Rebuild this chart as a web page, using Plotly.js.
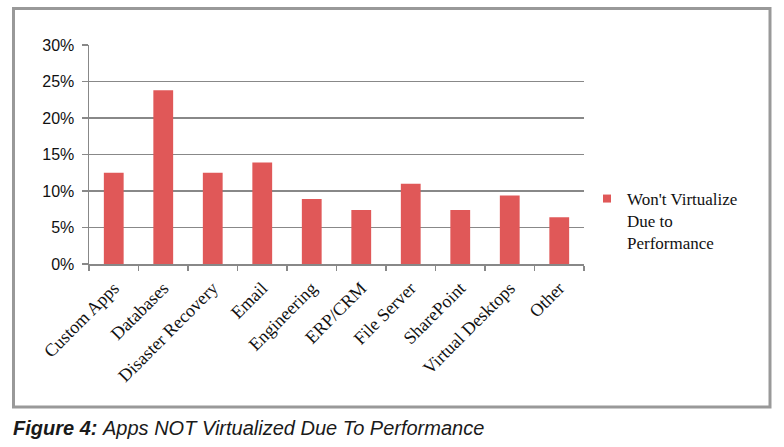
<!DOCTYPE html>
<html>
<head>
<meta charset="utf-8">
<script src="https://cdn.plot.ly/plotly-3.0.1.min.js"></script>
<style>
html,body{margin:0;padding:0;background:#fff;}
#chart{width:784px;height:447px;}
</style>
</head>
<body>
<div id="chart"></div>
<script>
const categories = ["Custom Apps","Databases","Disaster Recovery","Email","Engineering","ERP/CRM","File Server","SharePoint","Virtual Desktops","Other"];
const wontVirtualize = [0.125, 0.238, 0.125, 0.139, 0.089, 0.074, 0.110, 0.074, 0.094, 0.064];
const seriesName = "Won't Virtualize<br>Due to<br>Performance";
const yTickVals = [0, 0.05, 0.10, 0.15, 0.20, 0.25, 0.30];
const captionBold = "Figure 4:";
const captionRest = "Apps NOT Virtualized Due To Performance";

const barColor = "#e05858";
const serif = "'Liberation Serif', 'Times New Roman', serif";

const traces = [
  {
    type: "bar",
    x: categories,
    y: wontVirtualize,
    marker: {color: barColor, line: {width: 0}},
    showlegend: false,
    hoverinfo: "x+y"
  },
  {
    type: "scatter",
    mode: "markers",
    x: [null],
    y: [null],
    name: seriesName,
    marker: {symbol: "square", size: 8, color: barColor},
    showlegend: true
  }
];

const L = 89, R = 200, T = 45, B = 183;
const W = 784 - L - R, H = 447 - T - B;
const px = v => (v - L) / W;
const py = v => (447 - B - v) / H;

const layout = {
  width: 784,
  height: 447,
  margin: {l: L, r: R, t: T, b: B, pad: 0},
  paper_bgcolor: "#ffffff",
  plot_bgcolor: "#ffffff",
  bargap: 0.6,
  xaxis: {
    type: "category",
    showline: true,
    linecolor: "#888888",
    linewidth: 1.5,
    ticks: "outside",
    tickson: "boundaries",
    ticklen: 5,
    tickcolor: "#888888",
    tickwidth: 1.5,
    tickangle: -45,
    ticklabelstandoff: 5,
    tickfont: {family: serif, size: 18, color: "#111"},
    showgrid: false,
    fixedrange: true
  },
  yaxis: {
    range: [0, 0.30],
    tickvals: yTickVals,
    tickformat: ".0%",
    showline: true,
    linecolor: "#888888",
    linewidth: 1.5,
    ticks: "outside",
    ticklen: 6,
    tickcolor: "#888888",
    tickwidth: 1.5,
    ticklabelstandoff: 4,
    showgrid: true,
    gridcolor: "#888888",
    gridwidth: 1.5,
    zeroline: false,
    tickfont: {family: "'Liberation Sans', Arial, sans-serif", size: 16, color: "#111"},
    fixedrange: true
  },
  legend: {
    x: px(587),
    y: py(181),
    xanchor: "left",
    yanchor: "top",
    valign: "top",
    bgcolor: "rgba(0,0,0,0)",
    font: {family: serif, size: 17, color: "#111"},
    itemwidth: 30,
    tracegroupgap: 0
  },
  shapes: [
    {
      type: "rect",
      xref: "paper", yref: "paper",
      x0: px(13.5), x1: px(770),
      y0: py(407), y1: py(8.5),
      line: {color: "#999999", width: 3},
      fillcolor: "rgba(0,0,0,0)",
      layer: "below"
    }
  ],
  annotations: [
    {
      xref: "paper", yref: "paper",
      x: px(11), y: py(428),
      xanchor: "left", yanchor: "middle",
      showarrow: false,
      text: "<b><i>" + captionBold + "</i></b> <i>" + captionRest + "</i>",
      font: {family: "'Liberation Sans', Arial, sans-serif", size: 20, color: "#1a1a1a"}
    }
  ]
};

Plotly.newPlot("chart", traces, layout, {displayModeBar: false, staticPlot: true});
</script>
</body>
</html>
